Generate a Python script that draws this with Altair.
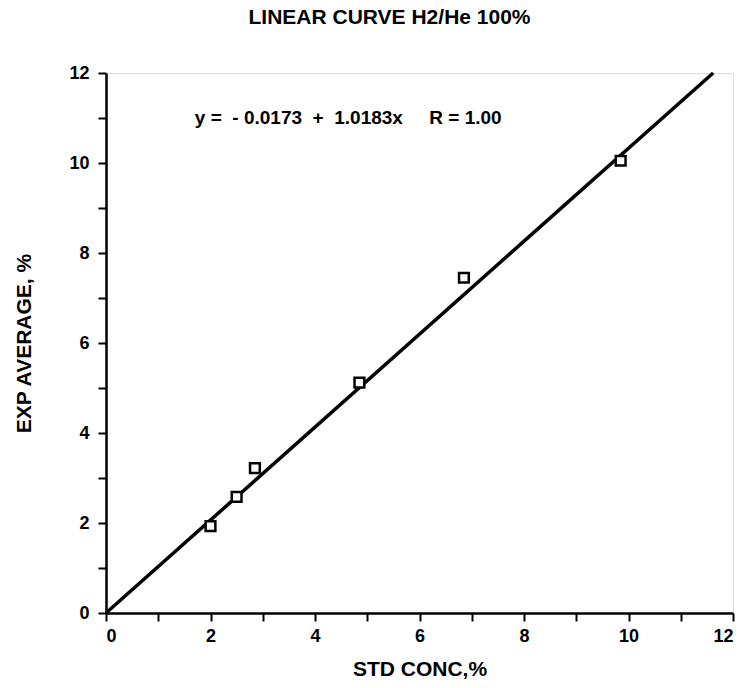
import altair as alt
import pandas as pd

std_conc = [2.0, 2.5, 2.85, 4.85, 6.85, 9.85]
exp_avg = [1.93, 2.58, 3.22, 5.12, 7.45, 10.05]

# fitted line as drawn in the picture
fit_x = [0.0, 11.62]
fit_y = [0.0, 12.0]

NB = "\u00a0"
eq_label = ["y" + NB + "=" + NB * 2 + "-" + NB + "0.0173" + NB * 2 + "+" + NB * 2
            + "1.0183x" + NB * 5 + "R" + NB + "=" + NB + "1.00"]
eq_x = [1.7]
eq_y = [11.0]

pts = pd.DataFrame({"x": std_conc, "y": exp_avg})
fit = pd.DataFrame({"x": fit_x, "y": fit_y})
eq = pd.DataFrame({"x": eq_x, "y": eq_y, "t": eq_label})

FONT = "Liberation Sans"
xs = alt.Scale(domain=[0, 12], nice=False)
ys = alt.Scale(domain=[0, 12], nice=False)
label_expr = "datum.value % 2 == 0 ? datum.label : ''"

common = dict(values=list(range(0, 13)), labelExpr=label_expr, grid=False,
              tickSize=8, tickWidth=2, tickColor="black", domainColor="black",
              domainWidth=2.5, labelFontSize=18, labelFont=FONT,
              labelFontWeight="bold", labelColor="black", titleFont=FONT,
              titleFontSize=21, titleFontWeight="bold", titleColor="black")

xaxis = alt.Axis(title="STD CONC,%", labelPadding=6, titlePadding=13, **common)
yaxis = alt.Axis(title="EXP AVERAGE, %", labelPadding=9, titlePadding=34, **common)

line = alt.Chart(fit).mark_line(color="black", strokeWidth=3.5).encode(
    x=alt.X("x:Q", scale=xs, axis=xaxis),
    y=alt.Y("y:Q", scale=ys, axis=yaxis),
)
points = alt.Chart(pts).mark_point(shape="square", size=95, filled=True, fill="white",
                                   stroke="black", strokeWidth=2.5, opacity=1).encode(
    x=alt.X("x:Q", scale=xs),
    y=alt.Y("y:Q", scale=ys),
)
text = alt.Chart(eq).mark_text(align="left", baseline="middle", fontSize=19,
                               font=FONT, fontWeight="bold", color="black").encode(
    x=alt.X("x:Q", scale=xs),
    y=alt.Y("y:Q", scale=ys),
    text="t:N",
)

chart = alt.layer(line, points, text).properties(
    width=627, height=540,
    title=alt.TitleParams("LINEAR CURVE H2/He 100%", font=FONT, fontSize=21,
                          fontWeight="bold", color="black", offset=36,
                          anchor="middle", dx=-30),
    autosize=alt.AutoSizeParams(type="none"),
    padding={"left": 106, "top": 73, "right": 19, "bottom": 75},
).configure_view(stroke="black", strokeWidth=2.5).configure(background="white")

chart.save("out.html", embed_options={"renderer": "svg", "actions": False})
